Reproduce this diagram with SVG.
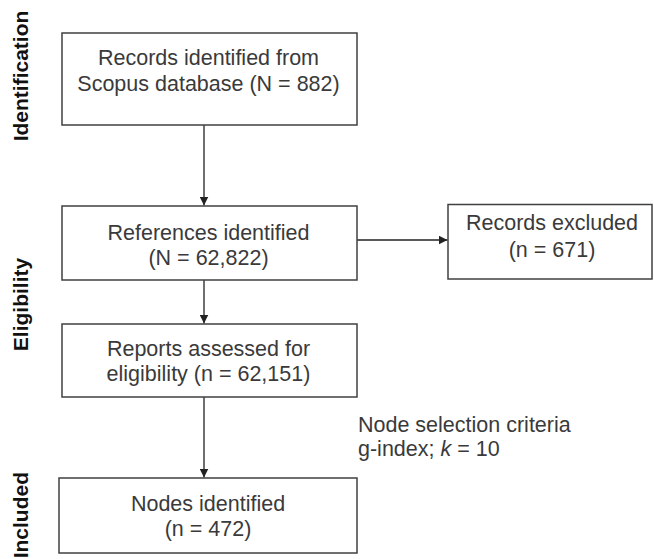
<svg xmlns="http://www.w3.org/2000/svg" width="654" height="559" viewBox="0 0 654 559">
<style>
.box{fill:#fff;stroke:#404040;stroke-width:1.5}
.t{font-family:"Liberation Sans",Arial,sans-serif;font-size:21.5px;fill:#3a3a3a;text-anchor:middle}
.lbl{font-family:"Liberation Sans",Arial,sans-serif;font-size:21.5px;fill:#3a3a3a}
.side{font-family:"Liberation Sans",Arial,sans-serif;font-size:21px;font-weight:bold;fill:#111;text-anchor:middle}
.c{fill:none;stroke:#222;stroke-width:1.3}
</style>
<defs>
<marker id="arr" viewBox="0 0 10 10" refX="10" refY="5" markerWidth="9" markerHeight="9" markerUnits="userSpaceOnUse" orient="auto">
<path d="M0,0 L10,5 L0,10 z" fill="#222"/>
</marker>
</defs>
<rect width="654" height="559" fill="#fff"/>
<g id="stages">
<text class="side" transform="translate(28,76) rotate(-90)">Identification</text>
<text class="side" transform="translate(28,304.5) rotate(-90)">Eligibility</text>
<text class="side" transform="translate(28,472) rotate(-90)" style="text-anchor:end">Included</text>
</g>
<g id="connectors">
<line class="c" x1="204" y1="125" x2="204" y2="205.5" marker-end="url(#arr)"/>
<line class="c" x1="204" y1="280" x2="204" y2="323.5" marker-end="url(#arr)"/>
<line class="c" x1="204" y1="397" x2="204" y2="477.5" marker-end="url(#arr)"/>
<line class="c" x1="357" y1="240" x2="447.5" y2="240" marker-end="url(#arr)"/>
<g id="criteria">
<text class="lbl" x="358" y="431.5">Node selection criteria</text>
<text class="lbl" x="358" y="455.5">g-index; <tspan font-style="italic">k</tspan> = 10</text>
</g>
</g>
<g id="n1">
<rect class="box" x="62" y="33" width="295" height="92"/>
<text class="t" x="208.5" y="65">Records identified from</text>
<text class="t" x="208.5" y="91">Scopus database (N = 882)</text>
</g>
<g id="n2">
<rect class="box" x="62" y="206" width="295" height="74"/>
<text class="t" x="208.5" y="239.5">References identified</text>
<text class="t" x="208.5" y="265">(N = 62,822)</text>
</g>
<g id="n3">
<rect class="box" x="448" y="204.5" width="204" height="74.5"/>
<text class="t" x="552" y="230">Records excluded</text>
<text class="t" x="552" y="256.5">(n = 671)</text>
</g>
<g id="n4">
<rect class="box" x="62" y="324" width="295" height="73"/>
<text class="t" x="208.5" y="355.5">Reports assessed for</text>
<text class="t" x="208.5" y="380.5">eligibility (n = 62,151)</text>
</g>
<g id="n5">
<rect class="box" x="59" y="478" width="298" height="75"/>
<text class="t" x="208" y="510.5">Nodes identified</text>
<text class="t" x="208" y="536">(n = 472)</text>
</g>
</svg>
